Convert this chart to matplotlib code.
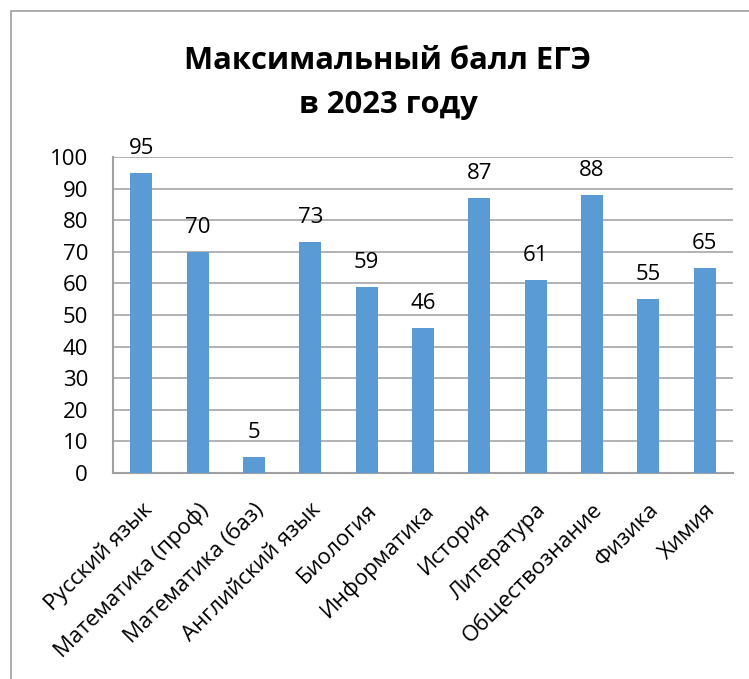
import matplotlib.pyplot as plt
from matplotlib.patches import Rectangle

plt.rcParams["font.family"] = ["Open Sans", "DejaVu Sans"]

subjects = [
    "Русский язык",
    "Математика (проф)",
    "Математика (баз)",
    "Английский язык",
    "Биология",
    "Информатика",
    "История",
    "Литература",
    "Обществознание",
    "Физика",
    "Химия",
]
max_scores = [95, 70, 5, 73, 59, 46, 87, 61, 88, 55, 65]
y_ticks = list(range(0, 101, 10))

fig = plt.figure(figsize=(7.49, 6.79), dpi=100)
ax = fig.add_axes([0.1509, 0.3034, 0.8277, 0.4654])

x = list(range(len(subjects)))
ax.bar(x, max_scores, width=0.39, color="#5B9BD5", zorder=3)

for xi, v in zip(x, max_scores):
    ax.annotate(str(v), (xi, v), xytext=(0, 10), textcoords="offset points",
                ha="center", va="bottom", fontsize=16, color="black")

ax.set_xlim(-0.5, len(subjects) - 0.5)
ax.set_ylim(0, 100)
ax.set_yticks(y_ticks)
ax.tick_params(axis="y", length=0, labelsize=16, pad=18)
ax.tick_params(axis="x", length=0, labelsize=16, pad=19)
ax.set_xticks(x)
ax.set_xticklabels(subjects, rotation=45, ha="right", va="top",
                   rotation_mode="anchor")

ax.grid(axis="y", color="#A6A6A6", linewidth=1.2, zorder=0)
for side in ["top", "right"]:
    ax.spines[side].set_visible(False)
for side in ["left", "bottom"]:
    ax.spines[side].set_color("#A0A0A0")
    ax.spines[side].set_linewidth(1.5)

fig.text(0.518, 0.878, "Максимальный балл ЕГЭ\nв 2023 году", ha="center",
         va="center", fontsize=22.3, fontweight="bold", linespacing=1.6)

# outer chart frame, cut off at the right and bottom
fig.patches.append(Rectangle((0.0147, -0.05), 1.1, 1.0338,
                             transform=fig.transFigure, fill=False,
                             edgecolor="#A0A0A0", linewidth=1.2))

fig.savefig("out.png", dpi=100)
